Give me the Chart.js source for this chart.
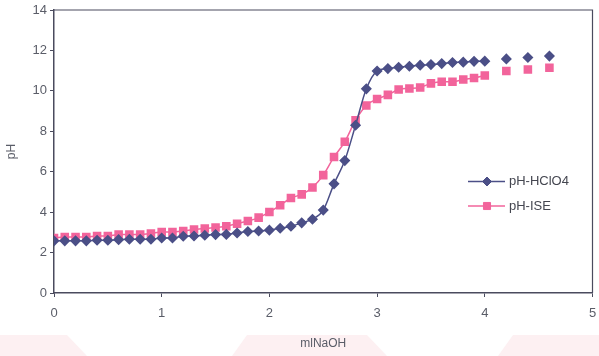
<!DOCTYPE html>
<html>
<head>
<meta charset="utf-8">
<script src="https://cdn.jsdelivr.net/npm/chart.js@4/dist/chart.umd.min.js"></script>
<style>
html,body{margin:0;padding:0;background:#fff;}
#wrap{width:599px;height:356px;}
</style>
</head>
<body>
<div id="wrap"><canvas id="c" width="599" height="356"></canvas></div>
<script>
// ---- data ----
const mlNaOH = [0,0.1,0.2,0.3,0.4,0.5,0.6,0.7,0.8,0.9,1.0,1.1,1.2,1.3,1.4,1.5,1.6,1.7,1.8,1.9,2.0,2.1,2.2,2.3,2.4,2.5,2.6,2.7,2.8,2.9,3.0,3.1,3.2,3.3,3.4,3.5,3.6,3.7,3.8,3.9,4.0,4.2,4.4,4.6];
const phHClO4 = [2.58,2.58,2.58,2.58,2.61,2.61,2.64,2.66,2.66,2.66,2.72,2.72,2.81,2.82,2.86,2.89,2.9,2.97,3.04,3.07,3.11,3.2,3.3,3.47,3.65,4.1,5.4,6.55,8.3,10.1,10.98,11.1,11.17,11.22,11.27,11.3,11.35,11.4,11.42,11.46,11.47,11.58,11.65,11.72];
const phISE = [2.72,2.77,2.77,2.77,2.82,2.82,2.89,2.89,2.89,2.94,3.02,3.02,3.07,3.14,3.19,3.24,3.3,3.43,3.56,3.73,4.01,4.34,4.7,4.88,5.22,5.83,6.73,7.48,8.55,9.28,9.6,9.8,10.07,10.12,10.17,10.37,10.45,10.45,10.56,10.64,10.76,10.98,11.06,11.14];
const seriesNames = ['pH-HClO4','pH-ISE'];
const xTitle = 'mlNaOH';
const yTitle = 'pH';

const BLUE = '#4b4f87';
const PINK = '#f2649b';
const AXIS = '#4a4b5e';
const TXT = '#5a5d68';
const FONT = '"Liberation Sans", Arial, sans-serif';

function pts(ys){ return mlNaOH.map((x,i)=>({x:x,y:ys[i]})); }
const lastConnected = 4.0;
const segStyle = {
  borderColor: ctx => (ctx.p1.parsed.x > lastConnected + 0.01 ? 'rgba(0,0,0,0)' : undefined)
};

const bgPlugin = {
  id:'bg',
  beforeDraw(chart){
    const c = chart.ctx;
    c.save();
    c.fillStyle = '#fff';
    c.fillRect(0,0,chart.width,chart.height);
    c.fillStyle = '#fdf0f2';
    c.fillRect(0,335,chart.width,21);
    c.fillStyle = '#fff';
    c.beginPath();
    c.moveTo(67,335); c.lineTo(247,335); c.lineTo(232,356); c.lineTo(87,356); c.closePath(); c.fill();
    c.beginPath();
    c.moveTo(367,335); c.lineTo(513,335); c.lineTo(498,356); c.lineTo(387,356); c.closePath(); c.fill();
    c.restore();
  }
};

const framePlugin = {
  id:'frame',
  afterDatasetsDraw(chart){
    const a = chart.chartArea, c = chart.ctx;
    c.save();
    c.strokeStyle = AXIS;
    c.lineWidth = 1.2;
    c.beginPath();
    c.moveTo(a.left, a.top); c.lineTo(a.right, a.top); c.lineTo(a.right, a.bottom);
    c.stroke();
    c.restore();
  }
};

const legendPlugin = {
  id:'customLegend',
  afterDraw(chart){
    const c = chart.ctx;
    const rows = [181.5, 206];
    c.save();
    chart.data.datasets.forEach((ds,i)=>{
      const y = rows[i];
      c.strokeStyle = ds.borderColor;
      c.lineWidth = 1.5;
      c.beginPath(); c.moveTo(468,y); c.lineTo(505,y); c.stroke();
      c.fillStyle = ds.pointBackgroundColor;
      c.strokeStyle = ds.pointBorderColor;
      c.lineWidth = 1;
      Chart.helpers.drawPoint(c, {pointStyle: ds.pointStyle, radius: ds.pointRadius, borderWidth:1}, 487, y);
      c.fillStyle = '#444650';
      c.font = '13px ' + FONT;
      c.textBaseline = 'middle';
      c.textAlign = 'left';
      c.fillText(ds.label, 509, y);
    });
    c.restore();
  }
};

new Chart(document.getElementById('c'), {
  type:'line',
  data:{
    datasets:[
      {label:seriesNames[0], data:pts(phHClO4), borderColor:BLUE, backgroundColor:BLUE,
       pointBackgroundColor:BLUE, pointBorderColor:BLUE, pointStyle:'rectRot', pointRadius:4.5,
       borderWidth:1.5, cubicInterpolationMode:'monotone', segment:segStyle},
      {label:seriesNames[1], data:pts(phISE), borderColor:PINK, backgroundColor:PINK,
       pointBackgroundColor:PINK, pointBorderColor:PINK, pointStyle:'rect', pointRadius:5,
       borderWidth:1.5, cubicInterpolationMode:'monotone', segment:segStyle}
    ]
  },
  options:{
    responsive:false,
    animation:false,
    layout:{padding:{left:0, top:10, right:2, bottom:0}},
    plugins:{legend:{display:false}, tooltip:{enabled:false}},
    scales:{
      x:{
        type:'linear', min:0, max:5,
        ticks:{stepSize:1, color:TXT, font:{family:FONT, size:13}, padding:9},
        grid:{drawOnChartArea:false, drawTicks:true, tickLength:4, color:AXIS},
        border:{display:true, color:AXIS, width:1.5},
        title:{display:true, text:xTitle, color:TXT, font:{family:FONT, size:12}, padding:{top:4,bottom:5}},
        afterFit(s){ s.height = 63; s.paddingRight = 0; s.paddingLeft = 0; }
      },
      y:{
        min:0, max:14,
        ticks:{stepSize:2, color:TXT, font:{family:FONT, size:13}, padding:3},
        grid:{drawOnChartArea:false, drawTicks:true, tickLength:4, color:AXIS},
        border:{display:true, color:AXIS, width:1.5},
        title:{display:true, text:yTitle, color:TXT, font:{family:FONT, size:12}, padding:{top:4,bottom:4}},
        afterFit(s){ s.width = 54; s.paddingTop = 0; s.paddingBottom = 0; }
      }
    }
  },
  plugins:[bgPlugin, framePlugin, legendPlugin]
});
</script>
</body>
</html>
